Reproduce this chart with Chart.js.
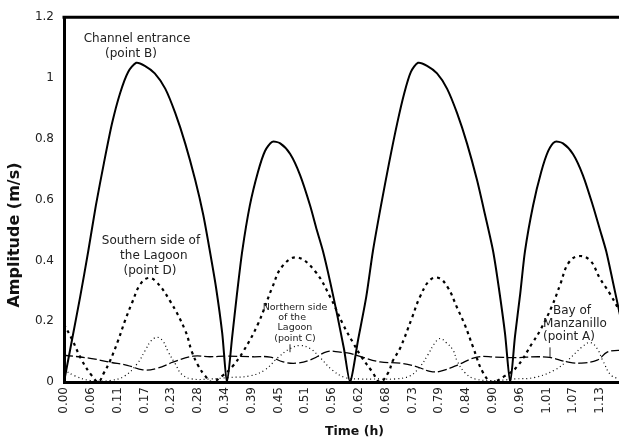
<!DOCTYPE html>
<html><head><meta charset="utf-8">
<script src="https://cdn.jsdelivr.net/npm/chart.js@4/dist/chart.umd.min.js"></script>
<style>
html,body{margin:0;padding:0;overflow:hidden;background:#fff;width:619px;height:440px}
#wrap{width:650px;height:440px;position:relative}
</style></head>
<body><div id="wrap"><canvas id="c" width="650" height="440"></canvas></div>
<script>
// ---- tick labels ----
const xTickLabels = ["0.00","0.06","0.11","0.17","0.23","0.28","0.34","0.39","0.45","0.51","0.56",
  "0.62","0.68","0.73","0.79","0.84","0.90","0.96","1.01","1.07","1.13","1.18"];
const X_TICK_STEP = 0.0564;
const X_MAX = 1.2226;
const yTickLabels = ["0","0.2","0.4","0.6","0.8","1","1.2"];

// ---- Channel entrance (point B) ----
const channelTime = [0,0.017,0.034,0.051,0.067,0.084,0.101,0.118,0.135,0.152,0.170,0.191,0.213,0.234,0.255,0.276,0.293,0.307,0.320,0.333,0.343,
  0.354,0.364,0.375,0.391,0.408,0.423,0.438,0.455,0.476,0.497,0.518,0.532,0.545,0.560,0.575,0.589,0.602,
  0.619,0.636,0.650,0.667,0.684,0.701,0.716,0.730,0.745,0.764,0.785,0.806,0.827,0.848,0.869,0.886,0.903,0.915,0.928,0.939,
  0.949,0.960,0.970,0.987,1.004,1.019,1.033,1.050,1.071,1.092,1.113,1.128,1.141,1.155,1.170,1.185,1.197,1.208,1.218];
const channelAmp = [0,0.14,0.28,0.43,0.58,0.72,0.85,0.95,1.02,1.05,1.04,1.015,0.965,0.885,0.785,0.665,0.55,0.43,0.31,0.16,0,
  0.15,0.29,0.43,0.58,0.69,0.76,0.79,0.785,0.75,0.68,0.58,0.50,0.43,0.33,0.22,0.11,0,
  0.14,0.28,0.43,0.58,0.72,0.85,0.95,1.02,1.05,1.04,1.015,0.965,0.885,0.785,0.665,0.55,0.43,0.31,0.16,0,
  0.15,0.29,0.43,0.58,0.69,0.76,0.79,0.785,0.75,0.68,0.58,0.50,0.43,0.33,0.22,0.11,0,0.14,0.28];

// ---- Southern side of the Lagoon (point D) ----
const southTime = [0,0.017,0.038,0.059,0.072,0.084,0.097,0.114,0.128,0.143,0.160,0.177,0.194,0.223,0.255,0.269,0.282,0.297,0.311,0.333,0.354,0.377,0.408,0.438,0.459,0.490,0.528,0.560,0.587,0.608,0.627,0.648,0.665,0.682,0.692,0.707,0.732,0.749,0.770,0.789,0.808,0.827,0.844,0.861,0.882,0.901,0.928,0.953,0.985,1.002,1.027,1.044,1.061,1.082,1.107,1.128,1.149,1.181,1.212];
const southAmp = [0.19,0.14,0.07,0.02,0,0.03,0.07,0.137,0.2,0.26,0.32,0.342,0.33,0.267,0.17,0.10,0.055,0.02,0,0.02,0.05,0.1,0.19,0.31,0.38,0.41,0.365,0.28,0.19,0.13,0.08,0.035,0,0.03,0.07,0.11,0.21,0.28,0.335,0.342,0.31,0.245,0.186,0.114,0.03,0,0.02,0.05,0.127,0.17,0.25,0.32,0.39,0.414,0.40,0.34,0.29,0.2,0.12];

// ---- Northern side of the Lagoon (point C) ----
const northTime = [0,0.023,0.055,0.097,0.128,0.154,0.171,0.183,0.196,0.208,0.219,0.234,0.248,0.269,0.307,0.349,0.391,0.423,0.450,0.476,0.497,0.518,0.539,0.564,0.591,0.623,0.665,0.697,0.728,0.749,0.766,0.779,0.791,0.804,0.819,0.827,0.844,0.865,0.907,0.949,0.991,1.033,1.059,1.090,1.107,1.122,1.134,1.153,1.181];
const northAmp = [0.04,0.02,0.005,0.005,0.02,0.06,0.104,0.135,0.147,0.135,0.1,0.06,0.025,0.01,0.01,0.015,0.02,0.04,0.08,0.11,0.12,0.11,0.08,0.04,0.015,0.01,0.01,0.01,0.02,0.05,0.09,0.125,0.143,0.13,0.104,0.07,0.03,0.01,0.005,0.01,0.015,0.04,0.07,0.115,0.13,0.11,0.07,0.02,0.01];

// ---- Bay of Manzanillo (point A) ----
const bayTime = [0,0.055,0.097,0.133,0.166,0.196,0.229,0.272,0.307,0.343,0.398,0.434,0.461,0.490,0.522,0.554,0.581,0.602,0.623,0.665,0.707,0.743,0.770,0.791,0.827,0.869,0.907,0.945,1.016,1.059,1.086,1.122,1.143,1.166,1.202];
const bayAmp = [0.088,0.078,0.065,0.055,0.04,0.045,0.065,0.085,0.083,0.085,0.083,0.082,0.066,0.062,0.075,0.1,0.098,0.094,0.084,0.066,0.062,0.05,0.035,0.035,0.055,0.082,0.082,0.08,0.082,0.066,0.062,0.072,0.098,0.104,0.098];

// ---- annotations (text in data coordinates) ----
const notes = [
  {t:"Channel entrance", x:0.1536, y:1.128, size:12},
  {t:"(point B)", x:0.141, y:1.078, size:12},
  {t:"Southern side of", x:0.183, y:0.463, size:12},
  {t:"the Lagoon", x:0.189, y:0.414, size:12},
  {t:"(point D)", x:0.181, y:0.365, size:12},
  {t:"Northern side", x:0.486, y:0.245, size:9.5},
  {t:"of the", x:0.480, y:0.212, size:9.5},
  {t:"Lagoon", x:0.486, y:0.179, size:9.5},
  {t:"(point C)", x:0.486, y:0.143, size:9.5},
  {t:"Bay of", x:1.069, y:0.235, size:12},
  {t:"Manzanillo", x:1.0753, y:0.192, size:12},
  {t:"(point A)", x:1.0627, y:0.147, size:12}
];
const leaders = [
  {x:0.4756, y1:0.124, y2:0.098},
  {x:1.0227, y1:0.114, y2:0.082}
];

const pts = (ts, vs) => ts.map((t, i) => ({x: t, y: vs[i]}));
const FONT = "'DejaVu Sans', sans-serif";

const decor = {
  id: 'decor',
  afterDatasetsDraw(chart) {
    const {ctx, chartArea: a, scales: {x, y}} = chart;
    ctx.save();
    ctx.strokeStyle = '#000';
    ctx.lineWidth = 3;
    ctx.beginPath();
    ctx.moveTo(a.left - 1.5, a.top);
    ctx.lineTo(a.right, a.top);
    ctx.lineTo(a.right, a.bottom);
    ctx.stroke();
    ctx.fillStyle = '#222';
    ctx.textAlign = 'center';
    ctx.textBaseline = 'middle';
    notes.forEach(n => {
      ctx.font = n.size + 'px ' + FONT;
      ctx.fillText(n.t, x.getPixelForValue(n.x), y.getPixelForValue(n.y));
    });
    ctx.lineWidth = 1;
    ctx.strokeStyle = '#222';
    leaders.forEach(l => {
      const px = x.getPixelForValue(l.x);
      ctx.beginPath();
      ctx.moveTo(px, y.getPixelForValue(l.y1));
      ctx.lineTo(px, y.getPixelForValue(l.y2));
      ctx.stroke();
    });
    ctx.fillStyle = '#111';
    ctx.font = 'bold 16px ' + FONT;
    ctx.save();
    ctx.translate(15, 235);
    ctx.rotate(-Math.PI / 2);
    ctx.fillText('Amplitude (m/s)', 0, 0);
    ctx.restore();
    ctx.font = 'bold 12.5px ' + FONT;
    ctx.fillText('Time (h)', (a.left + a.right) / 2, 432);
    ctx.restore();
  }
};

new Chart(document.getElementById('c'), {
  type: 'line',
  data: {
    datasets: [
      {label: 'Channel entrance (point B)', data: pts(channelTime, channelAmp),
       borderColor: '#000', borderWidth: 2, pointRadius: 0, tension: 0.25, fill: false},
      {label: 'Southern side of the Lagoon (point D)', data: pts(southTime, southAmp),
       borderColor: '#000', borderWidth: 2.2, borderDash: [3, 4], pointRadius: 0, tension: 0.4, fill: false},
      {label: 'Northern side of the Lagoon (point C)', data: pts(northTime, northAmp),
       borderColor: '#000', borderWidth: 1.2, borderDash: [1, 3], pointRadius: 0, tension: 0.4, fill: false},
      {label: 'Bay of Manzanillo (point A)', data: pts(bayTime, bayAmp),
       borderColor: '#000', borderWidth: 1.3, borderDash: [9, 3], pointRadius: 0, tension: 0.4, fill: false}
    ]
  },
  options: {
    responsive: false,
    animation: false,
    devicePixelRatio: 1,
    layout: {padding: {top: 14, right: 5, left: 0, bottom: 0}},
    plugins: {legend: {display: false}, tooltip: {enabled: false}},
    scales: {
      x: {
        type: 'linear', min: 0, max: X_MAX,
        afterBuildTicks: s => { s.ticks = xTickLabels.map((l, i) => ({value: i * X_TICK_STEP})); },
        afterFit: s => { s.height = 58; },
        ticks: {autoSkip: false, minRotation: 90, maxRotation: 90, padding: 5, color: '#222',
                font: {family: FONT, size: 12}, callback: (v, i) => xTickLabels[i]},
        grid: {display: false, drawTicks: false},
        border: {display: true, color: '#000', width: 3}
      },
      y: {
        min: 0, max: 1.2,
        afterBuildTicks: s => { s.ticks = yTickLabels.map((l, i) => ({value: i * 0.2})); },
        afterFit: s => { s.width = 64; },
        ticks: {padding: 10, color: '#222', font: {family: FONT, size: 12},
                callback: (v, i) => yTickLabels[i]},
        grid: {display: false, drawTicks: false},
        border: {display: true, color: '#000', width: 3}
      }
    }
  },
  plugins: [decor]
});
</script>
</body></html>
